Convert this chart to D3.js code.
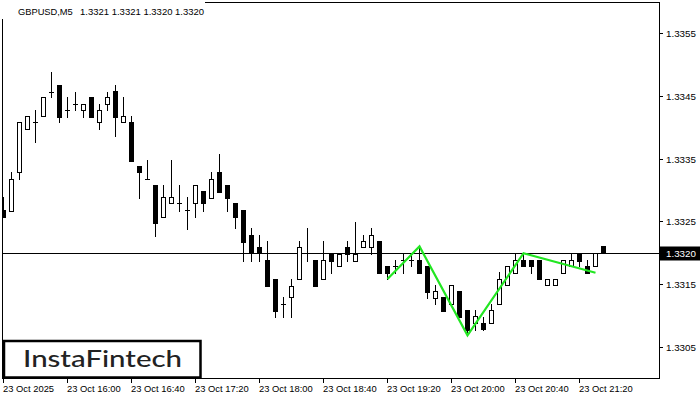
<!DOCTYPE html>
<html><head><meta charset="utf-8">
<script src="https://cdn.jsdelivr.net/npm/d3@7"></script>
<style>html,body{margin:0;padding:0;background:#fff;}svg{display:block;}</style>
</head><body>
<svg id="chart" width="700" height="400"></svg>
<script>
// ---- data (GBPUSD M5, bars from 23 Oct 15:20) ----
const openP = [1.33268,1.33267,1.33328,1.33398,1.33408,1.33418,1.33457,1.33468,1.33427,1.33438,
1.33427,1.33448,1.33408,1.33438,1.33458,1.33408,1.33409,1.33338,1.33317,1.33308,
1.33257,1.33279,1.33279,1.33268,1.33279,1.33298,1.33288,1.33328,1.33308,1.33279,
1.33268,1.33228,1.33209,1.33188,1.33158,1.33118,1.33129,1.33158,1.33199,1.33188,
1.33158,1.33198,1.33178,1.33209,1.33187,1.33209,1.33209,1.33219,1.33179,1.33178,
1.33188,1.33188,1.33188,1.33179,1.33128,1.33130,1.33118,1.33139,1.33109,1.33088,
1.33088,1.33088,1.33118,1.33148,1.33168,1.33188,1.33188,1.33188,1.33148,1.33148,
1.33168,1.33178,1.33199,1.33179,1.33178,1.33210];
const highP = [1.33289,1.33329,1.33408,1.33418,1.33428,1.33448,1.33488,1.33468,1.33448,1.33457,
1.33438,1.33448,1.33438,1.33457,1.33468,1.33448,1.33418,1.33338,1.33348,1.33308,
1.33308,1.33348,1.33308,1.33289,1.33308,1.33298,1.33328,1.33357,1.33308,1.33279,
1.33268,1.33239,1.33228,1.33219,1.33158,1.33129,1.33158,1.33219,1.33239,1.33188,
1.33219,1.33198,1.33198,1.33219,1.33249,1.33228,1.33239,1.33219,1.33179,1.33188,
1.33198,1.33199,1.33210,1.33179,1.33148,1.33130,1.33148,1.33139,1.33109,1.33109,
1.33098,1.33118,1.33169,1.33179,1.33199,1.33199,1.33188,1.33188,1.33158,1.33158,
1.33188,1.33199,1.33199,1.33188,1.33199,1.33210];
const lowP = [1.33257,1.33267,1.33317,1.33398,1.33377,1.33418,1.33448,1.33408,1.33417,1.33427,
1.33417,1.33417,1.33398,1.33427,1.33386,1.33408,1.33347,1.33288,1.33317,1.33227,
1.33257,1.33279,1.33267,1.33238,1.33257,1.33267,1.33288,1.33297,1.33267,1.33239,
1.33187,1.33187,1.33187,1.33147,1.33098,1.33098,1.33098,1.33158,1.33187,1.33147,
1.33158,1.33168,1.33178,1.33187,1.33187,1.33209,1.33198,1.33168,1.33158,1.33168,
1.33168,1.33178,1.33168,1.33128,1.33118,1.33107,1.33118,1.33098,1.33068,1.33077,
1.33077,1.33088,1.33118,1.33148,1.33168,1.33178,1.33168,1.33158,1.33148,1.33148,
1.33168,1.33178,1.33178,1.33168,1.33178,1.33199];
const closeP = [1.33257,1.33317,1.33408,1.33418,1.33408,1.33448,1.33457,1.33417,1.33427,1.33438,
1.33438,1.33417,1.33427,1.33448,1.33417,1.33418,1.33347,1.33328,1.33317,1.33248,
1.33289,1.33289,1.33279,1.33268,1.33308,1.33279,1.33317,1.33297,1.33288,1.33257,
1.33217,1.33199,1.33199,1.33147,1.33107,1.33118,1.33147,1.33209,1.33199,1.33147,
1.33188,1.33187,1.33198,1.33198,1.33198,1.33218,1.33228,1.33168,1.33168,1.33178,
1.33188,1.33188,1.33168,1.33138,1.33139,1.33107,1.33148,1.33098,1.33077,1.33099,
1.33078,1.33109,1.33158,1.33179,1.33188,1.33178,1.33178,1.33158,1.33158,1.33158,
1.33188,1.33188,1.33187,1.33168,1.33199,1.33199];

// pattern (inverse head & shoulders) vertices: bar index, price
const patternIdx = [48, 52, 58, 65, 74];
const patternPrice = [1.33158, 1.33210, 1.33068, 1.33199, 1.33168];

const priceTicks = [1.3305, 1.3315, 1.3325, 1.3335, 1.3345, 1.3355];
const timeTickIdx = [0, 8, 16, 24, 32, 40, 48, 56, 64, 72];
const timeTickLabels = ["23 Oct 2025","23 Oct 16:00","23 Oct 16:40","23 Oct 17:20","23 Oct 18:00",
  "23 Oct 18:40","23 Oct 19:20","23 Oct 20:00","23 Oct 20:40","23 Oct 21:20"];
const currentPrice = 1.3320;
const headerSymbol = "GBPUSD,M5";
const headerValues = "1.3321 1.3321 1.3320 1.3320";

// ---- layout ----
const L = 2, T = 2, R = 659, B = 378;
const svg = d3.select("#chart");
svg.append("rect").attr("width",700).attr("height",400).attr("fill","#fff");

const y = d3.scaleLinear().domain([1.3300, 1.3360]).range([B, T]);
const x = d3.scaleLinear().domain([0, openP.length - 1]).range([3.5, 3.5 + 8*(openP.length - 1)]);
const py = v => Math.round(y(v));

svg.append("clipPath").attr("id","plot").append("rect")
  .attr("x",L).attr("y",T).attr("width",R-L).attr("height",B-T);

const g = svg.append("g").attr("clip-path","url(#plot)").attr("shape-rendering","crispEdges");

// current price line
g.append("line").attr("x1",L).attr("x2",R)
  .attr("y1",py(currentPrice)+0.5).attr("y2",py(currentPrice)+0.5)
  .attr("stroke","#000").attr("stroke-width",1);

const bars = d3.range(openP.length).map(i => ({i, o:openP[i], h:highP[i], l:lowP[i], c:closeP[i]}));
const cg = g.selectAll("g.c").data(bars).join("g").attr("class","c");
cg.append("line")
  .attr("x1",d=>x(d.i)).attr("x2",d=>x(d.i))
  .attr("y1",d=>py(d.h)).attr("y2",d=>py(d.l)+1)
  .attr("stroke","#000").attr("stroke-width",1);
cg.each(function(d){
  const s = d3.select(this);
  const yo = py(d.o), yc = py(d.c);
  const cx = x(d.i);
  if (yo === yc) {
    s.append("line").attr("x1",cx-2.5).attr("x2",cx+2.5).attr("y1",yo+0.5).attr("y2",yo+0.5)
      .attr("stroke","#000").attr("stroke-width",1);
  } else if (d.c > d.o) {
    s.append("rect").attr("x",cx-2).attr("y",yc+0.5).attr("width",4).attr("height",yo-yc)
      .attr("fill","#fff").attr("stroke","#000").attr("stroke-width",1);
  } else {
    s.append("rect").attr("x",cx-2.5).attr("y",yo).attr("width",5).attr("height",yc-yo+1)
      .attr("fill","#000");
  }
});

// pattern line
const line = d3.line().x(d=>x(d[0])).y(d=>y(d[1]));
svg.append("g").attr("clip-path","url(#plot)").append("path")
  .datum(patternIdx.map((k,j)=>[k, patternPrice[j]]))
  .attr("d", line).attr("fill","none").attr("stroke","#22e622").attr("stroke-width",2.2)
  .attr("stroke-linejoin","miter");

// frame
svg.append("rect").attr("x",L+0.5).attr("y",T+0.5).attr("width",R-L).attr("height",B-T)
  .attr("fill","none").attr("stroke","#000").attr("stroke-width",1).attr("shape-rendering","crispEdges");

// header
svg.append("rect").attr("x",0).attr("y",0).attr("width",205).attr("height",19).attr("fill","#fff");
const font = "'Liberation Sans', Arial, sans-serif";
svg.append("text").attr("x",18).attr("y",15).attr("font-family",font).attr("font-size",9.3)
  .attr("fill","#000").text(headerSymbol);
svg.append("text").attr("x",80).attr("y",15).attr("font-family",font).attr("font-size",9.5)
  .attr("fill","#000").text(headerValues);

// right axis
const ra = svg.append("g");
priceTicks.forEach(v => {
  const yy = py(v) + 0.5;
  ra.append("line").attr("x1",R).attr("x2",R+4).attr("y1",yy).attr("y2",yy)
    .attr("stroke","#000").attr("shape-rendering","crispEdges");
  ra.append("text").attr("x",666).attr("y",yy+3.5).attr("font-family",font).attr("font-size",9.8)
    .attr("fill","#000").text(d3.format(".4f")(v));
});
const cy = py(currentPrice) + 0.5;
ra.append("rect").attr("x",R+1).attr("y",cy-7).attr("width",40).attr("height",14).attr("fill","#000");
ra.append("text").attr("x",666).attr("y",cy+3.5).attr("font-family",font).attr("font-size",9.8)
  .attr("fill","#fff").text(d3.format(".4f")(currentPrice));

// bottom axis
const ba = svg.append("g");
timeTickIdx.forEach((k,j) => {
  const xx = x(k);
  ba.append("line").attr("x1",xx).attr("x2",xx).attr("y1",B).attr("y2",B+5)
    .attr("stroke","#000").attr("shape-rendering","crispEdges");
  ba.append("text").attr("x",xx-0.5).attr("y",392).attr("font-family",font).attr("font-size",9.4)
    .attr("fill","#000").text(timeTickLabels[j]);
});

// logo
svg.append("rect").attr("x",4).attr("y",341).attr("width",196.5).attr("height",36.5)
  .attr("fill","#fff").attr("stroke","#000").attr("stroke-width",2.5);
svg.append("text").attr("x",23).attr("y",367).attr("font-family","Lato, 'Open Sans', sans-serif")
  .attr("font-size",23).attr("font-weight",500).attr("fill","#222")
  .attr("textLength",159).attr("lengthAdjust","spacingAndGlyphs").text("InstaFintech");
</script>
</body></html>
